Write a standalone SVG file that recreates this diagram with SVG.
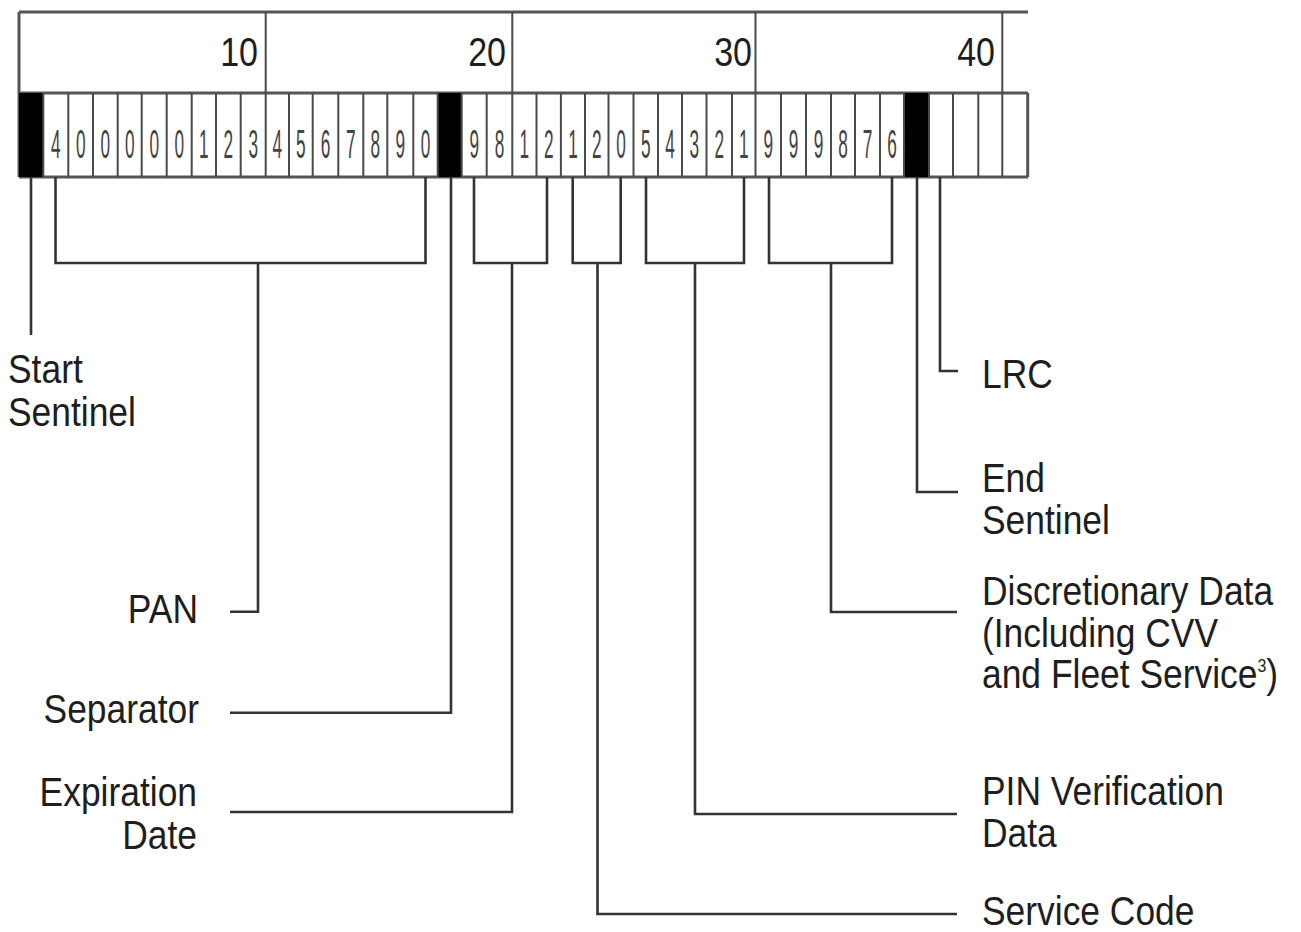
<svg xmlns="http://www.w3.org/2000/svg" width="1301" height="932" viewBox="0 0 1301 932">
<style>
.lbl{font-family:"Liberation Sans",Arial,sans-serif;font-size:40px;fill:#1e1e1e}
.num{font-family:"Liberation Sans",Arial,sans-serif;font-size:40px;fill:#1e1e1e;text-anchor:end}
.dg{font-family:"Liberation Sans",Arial,sans-serif;font-size:41px;fill:#444;text-anchor:middle}
.end{text-anchor:end}
.grid{stroke:#4a4a4a;stroke-width:2;fill:none}
.frame{stroke:#555;stroke-width:3;fill:none}
.blk{fill:#000}
.conn path{stroke:#333;stroke-width:2.6;fill:none}
</style>
<rect width="1301" height="932" fill="#fff"/>
<g id="ruler">
<path class="frame" d="M19,12 H1028 M19,12 V177 M19,93 H1028 M19,177 H1028 M1027.7,93 V177"/>
<path class="grid" d="M265.7,12 V93 M512.3,12 V93 M755.5,12 V93 M1002.3,12 V93"/>
<text class="num" transform="translate(258,65.5) scale(0.85,1)">10</text>
<text class="num" transform="translate(506,65.5) scale(0.85,1)">20</text>
<text class="num" transform="translate(752,65.5) scale(0.85,1)">30</text>
<text class="num" transform="translate(995,65.5) scale(0.85,1)">40</text>
</g>
<g id="cells">
<rect class="blk" x="19" y="93" width="24.3" height="84"/>
<rect class="blk" x="437.7" y="93" width="24" height="84"/>
<rect class="blk" x="904" y="93" width="25" height="84"/>
<path class="grid" d="M43.3,93V177 M68.3,93V177 M93,93V177 M117.7,93V177 M141.7,93V177 M166.7,93V177 M191.7,93V177 M216,93V177 M240.7,93V177 M265.7,93V177 M289,93V177 M312.7,93V177 M338.3,93V177 M363.3,93V177 M387.3,93V177 M413.3,93V177 M437.7,93V177 M461.7,93V177 M486.7,93V177 M512.3,93V177 M536.5,93V177 M560.9,93V177 M585,93V177 M608.5,93V177 M633.5,93V177 M658,93V177 M682,93V177 M706.5,93V177 M732,93V177 M755.5,93V177 M781,93V177 M806,93V177 M831,93V177 M855,93V177 M880,93V177 M904,93V177 M929,93V177 M953,93V177 M978.3,93V177 M1002.3,93V177"/>
<text class="dg" transform="translate(55.8,158) scale(0.42,1)">4</text>
<text class="dg" transform="translate(80.7,158) scale(0.42,1)">0</text>
<text class="dg" transform="translate(105.3,158) scale(0.42,1)">0</text>
<text class="dg" transform="translate(129.7,158) scale(0.42,1)">0</text>
<text class="dg" transform="translate(154.2,158) scale(0.42,1)">0</text>
<text class="dg" transform="translate(179.2,158) scale(0.42,1)">0</text>
<text class="dg" transform="translate(203.8,158) scale(0.42,1)">1</text>
<text class="dg" transform="translate(228.3,158) scale(0.42,1)">2</text>
<text class="dg" transform="translate(253.2,158) scale(0.42,1)">3</text>
<text class="dg" transform="translate(277.3,158) scale(0.42,1)">4</text>
<text class="dg" transform="translate(300.8,158) scale(0.42,1)">5</text>
<text class="dg" transform="translate(325.5,158) scale(0.42,1)">6</text>
<text class="dg" transform="translate(350.8,158) scale(0.42,1)">7</text>
<text class="dg" transform="translate(375.3,158) scale(0.42,1)">8</text>
<text class="dg" transform="translate(400.3,158) scale(0.42,1)">9</text>
<text class="dg" transform="translate(425.5,158) scale(0.42,1)">0</text>
<text class="dg" transform="translate(474.2,158) scale(0.42,1)">9</text>
<text class="dg" transform="translate(499.5,158) scale(0.42,1)">8</text>
<text class="dg" transform="translate(524.4,158) scale(0.42,1)">1</text>
<text class="dg" transform="translate(548.7,158) scale(0.42,1)">2</text>
<text class="dg" transform="translate(573,158) scale(0.42,1)">1</text>
<text class="dg" transform="translate(596.8,158) scale(0.42,1)">2</text>
<text class="dg" transform="translate(621,158) scale(0.42,1)">0</text>
<text class="dg" transform="translate(645.8,158) scale(0.42,1)">5</text>
<text class="dg" transform="translate(670,158) scale(0.42,1)">4</text>
<text class="dg" transform="translate(694.3,158) scale(0.42,1)">3</text>
<text class="dg" transform="translate(719.3,158) scale(0.42,1)">2</text>
<text class="dg" transform="translate(743.8,158) scale(0.42,1)">1</text>
<text class="dg" transform="translate(768.3,158) scale(0.42,1)">9</text>
<text class="dg" transform="translate(793.5,158) scale(0.42,1)">9</text>
<text class="dg" transform="translate(818.5,158) scale(0.42,1)">9</text>
<text class="dg" transform="translate(843,158) scale(0.42,1)">8</text>
<text class="dg" transform="translate(867.5,158) scale(0.42,1)">7</text>
<text class="dg" transform="translate(892,158) scale(0.42,1)">6</text>
</g>
<g id="connectors" class="conn">
<path d="M31,177 V335"/>
<path d="M55.5,177 V263 H425.5 V177 M258,263 V611.7 H230"/>
<path d="M451,177 V712.7 H230"/>
<path d="M474,177 V263 H547 V177 M512,263 V812 H230"/>
<path d="M572.7,177 V263 H620.7 V177 M597.5,263 V914 H957"/>
<path d="M646,177 V263 H744 V177 M695,263 V814 H957"/>
<path d="M769,177 V263 H892 V177 M831,263 V612 H957"/>
<path d="M917,177 V492 H958"/>
<path d="M940,177 V371 H958"/>
</g>
<g id="start-sentinel">
<text class="lbl" transform="translate(8,383) scale(0.885,1)">Start</text>
<text class="lbl" transform="translate(8,426) scale(0.885,1)">Sentinel</text>
</g>
<g id="pan">
<text class="lbl end" transform="translate(198,623) scale(0.885,1)">PAN</text>
</g>
<g id="separator">
<text class="lbl end" transform="translate(199,723) scale(0.885,1)">Separator</text>
</g>
<g id="expiration-date">
<text class="lbl end" transform="translate(197,806) scale(0.885,1)">Expiration</text>
<text class="lbl end" transform="translate(197,849) scale(0.885,1)">Date</text>
</g>
<g id="lrc">
<text class="lbl" transform="translate(982,388) scale(0.885,1)">LRC</text>
</g>
<g id="end-sentinel">
<text class="lbl" transform="translate(982,492) scale(0.885,1)">End</text>
<text class="lbl" transform="translate(982,534) scale(0.885,1)">Sentinel</text>
</g>
<g id="discretionary-data">
<text class="lbl" transform="translate(982,605) scale(0.885,1)">Discretionary Data</text>
<text class="lbl" transform="translate(982,647) scale(0.885,1)">(Including CVV</text>
<text class="lbl" transform="translate(982,688) scale(0.885,1)">and Fleet Service<tspan font-size="18" dy="-16">3</tspan><tspan dy="16">)</tspan></text>
</g>
<g id="pin-verification-data">
<text class="lbl" transform="translate(982,805) scale(0.885,1)">PIN Verification</text>
<text class="lbl" transform="translate(982,847) scale(0.885,1)">Data</text>
</g>
<g id="service-code">
<text class="lbl" transform="translate(982,925) scale(0.885,1)">Service Code</text>
</g>
</svg>
